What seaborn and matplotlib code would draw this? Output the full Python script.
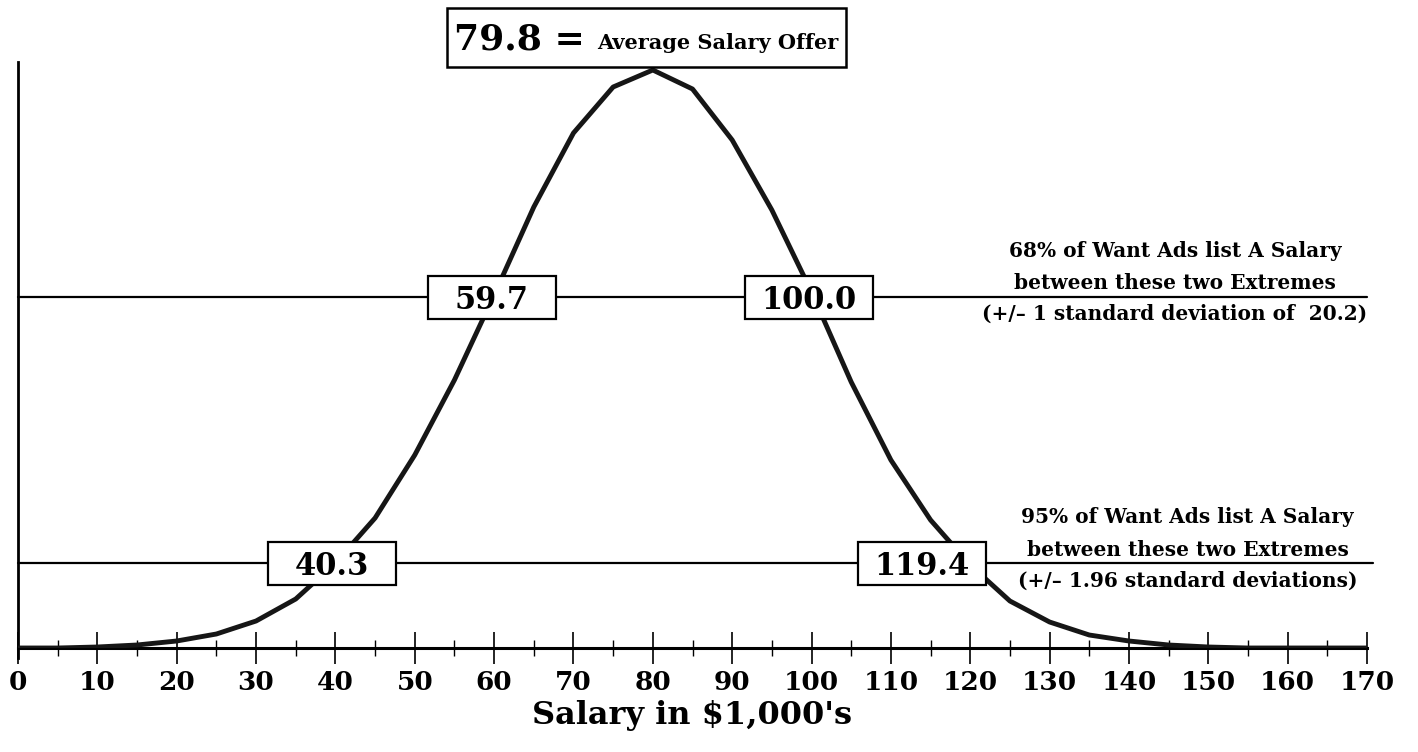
import seaborn as sns
import pandas as pd
import numpy as np
import matplotlib.pyplot as plt
from matplotlib.patches import Rectangle
from matplotlib.ticker import MultipleLocator

# salary (in $1,000's) and relative frequency
salary = list(range(0, 175, 5))
freq = [0, 0, 1, 3, 7, 14, 27, 49, 85, 130,
        193, 268, 353, 441, 515, 561, 578, 559, 508, 438,
        356, 266, 188, 128, 83, 47, 26, 13, 7, 3,
        1, 0, 0, 0, 0]

mean_label = "79.8 ="
mean_text = "Average Salary Offer"
sd1_labels = ["59.7", "100.0"]
sd1_pos = [59.7, 99.7]
sd1_level = 351
sd2_labels = ["40.3", "119.4"]
sd2_pos = [39.6, 113.9]
sd2_level = 85
note68 = ["68% of Want Ads list A Salary", "between these two Extremes",
          "(+/– 1 standard deviation of  20.2)"]
note95 = ["95% of Want Ads list A Salary", "between these two Extremes",
          "(+/– 1.96 standard deviations)"]

sns.set_style("ticks")
plt.rcParams['font.family'] = ['DejaVu Serif']
plt.rcParams['font.weight'] = 'bold'
plt.rcParams['text.color'] = 'black'
plt.rcParams['axes.labelcolor'] = 'black'
plt.rcParams['xtick.color'] = 'black'
plt.rcParams['xtick.labelcolor'] = 'black'
plt.rcParams['axes.edgecolor'] = 'black'

fig = plt.figure(figsize=(14.18, 7.52), dpi=100)
ax = fig.add_axes([18/1418, 1 - 648/752, (1367 - 18)/1418, (648 - 62)/752])

df = pd.DataFrame({"salary": salary, "freq": freq})
sns.lineplot(data=df, x="salary", y="freq", ax=ax, color="#161616", lw=3.5, zorder=3)

ax.set_xlim(0, 170)
ax.set_ylim(0, 586)
ax.set_xlabel("Salary in \\$1,000's", fontsize=23, fontweight='bold', labelpad=4)
ax.set_ylabel("")
ax.set_yticks([])
sns.despine(ax=ax)
ax.spines['left'].set_linewidth(2)
ax.spines['bottom'].set_linewidth(2.2)
ax.spines['left'].set_bounds(-10, 586)

ax.xaxis.set_major_locator(MultipleLocator(10))
ax.xaxis.set_minor_locator(MultipleLocator(5))
ax.tick_params(axis='x', which='major', direction='inout', length=23, width=1.2,
               labelsize=19, pad=4)
ax.tick_params(axis='x', which='minor', direction='inout', length=12, width=1.0)
for lab in ax.get_xticklabels():
    lab.set_fontweight('bold')

# reference lines
ax.plot([0, 170], [sd1_level, sd1_level], color='black', lw=1.6, clip_on=False, zorder=2)
ax.plot([0, 170.7], [sd2_level, sd2_level], color='black', lw=1.6, clip_on=False, zorder=2)

box_w = 16.1
box_h = 43
for labels, pos, level in [(sd1_labels, sd1_pos, sd1_level), (sd2_labels, sd2_pos, sd2_level)]:
    for lab, x in zip(labels, pos):
        ax.add_patch(Rectangle((x - box_w/2, level - box_h/2), box_w, box_h,
                               facecolor='white', edgecolor='black', lw=1.6, zorder=4))
        ax.text(x, level, lab, ha='center', va='center_baseline', fontsize=22,
                fontweight='bold', zorder=5)

# mean box on top
ax.add_patch(Rectangle((54.1, 581), 50.2, 59, facecolor='white', edgecolor='black',
                       lw=1.8, zorder=4, clip_on=False))
ax.text(55.0, 599, mean_label, ha='left', va='baseline', fontsize=26,
        fontweight='bold', zorder=5)
ax.text(103.4, 599, mean_text, ha='right', va='baseline', fontsize=15,
        fontweight='bold', zorder=5)

# notes on the right
for ln, yy in zip(note68, [397, 365, 334]):
    ax.text(145.8, yy, ln, ha='center', va='center', fontsize=14.5, fontweight='bold')
for ln, yy in zip(note95, [131, 98, 67]):
    ax.text(147.4, yy, ln, ha='center', va='center', fontsize=14.5, fontweight='bold')

fig.savefig("out.png", dpi=100)
